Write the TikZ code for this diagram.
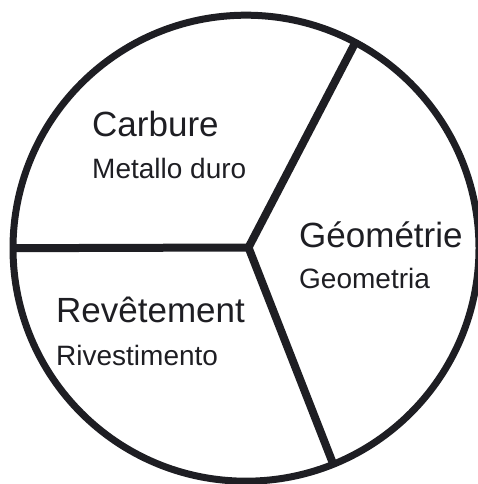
\documentclass[tikz,border=0pt]{standalone}
\usepackage{fontspec}
\setmainfont{Liberation Sans}
\usepackage{xcolor}
\usepackage{tikz}
\usetikzlibrary{positioning, calc}
\definecolor{ink}{RGB}{30,30,35}

\begin{document}
\begin{tikzpicture}[
    x=1pt, y=1pt,
    disc/.style={circle, draw=ink, line width=7pt, minimum size=466pt, inner sep=0pt, outer sep=0pt},
    spoke/.style={draw=ink, line width=8pt, line join=miter},
    bigname/.style={anchor=base west, inner sep=0pt, text=ink, font=\fontsize{35}{40}\selectfont},
    smallname/.style={anchor=base west, inner sep=0pt, text=ink, font=\fontsize{28}{32}\selectfont}
  ]
  \useasboundingbox (0,0) rectangle (478,484);
  \node (D) [disc] at (246,235.8) {};
  \coordinate (hub) at (248.5,236.5);

  % three sectors
  \draw [spoke] (D.180) -- (hub);
  \draw [spoke] (D.62) -- (hub) -- (D.-68);

  \node (carbFr) [bigname]   at (92,347)  {Carbure};
  \node (carbIt) [smallname] at ([yshift=-42pt]carbFr.base west) {Metallo duro};
  \node (geoFr)  [bigname]   at (299,236) {Géométrie};
  \node (geoIt)  [smallname] at ([yshift=-41pt]geoFr.base west) {Geometria};
  \node (revFr)  [bigname]   at (56,161)  {Revêtement};
  \node (revIt)  [smallname] at ([yshift=-43pt]revFr.base west) {Rivestimento};
\end{tikzpicture}
\end{document}
